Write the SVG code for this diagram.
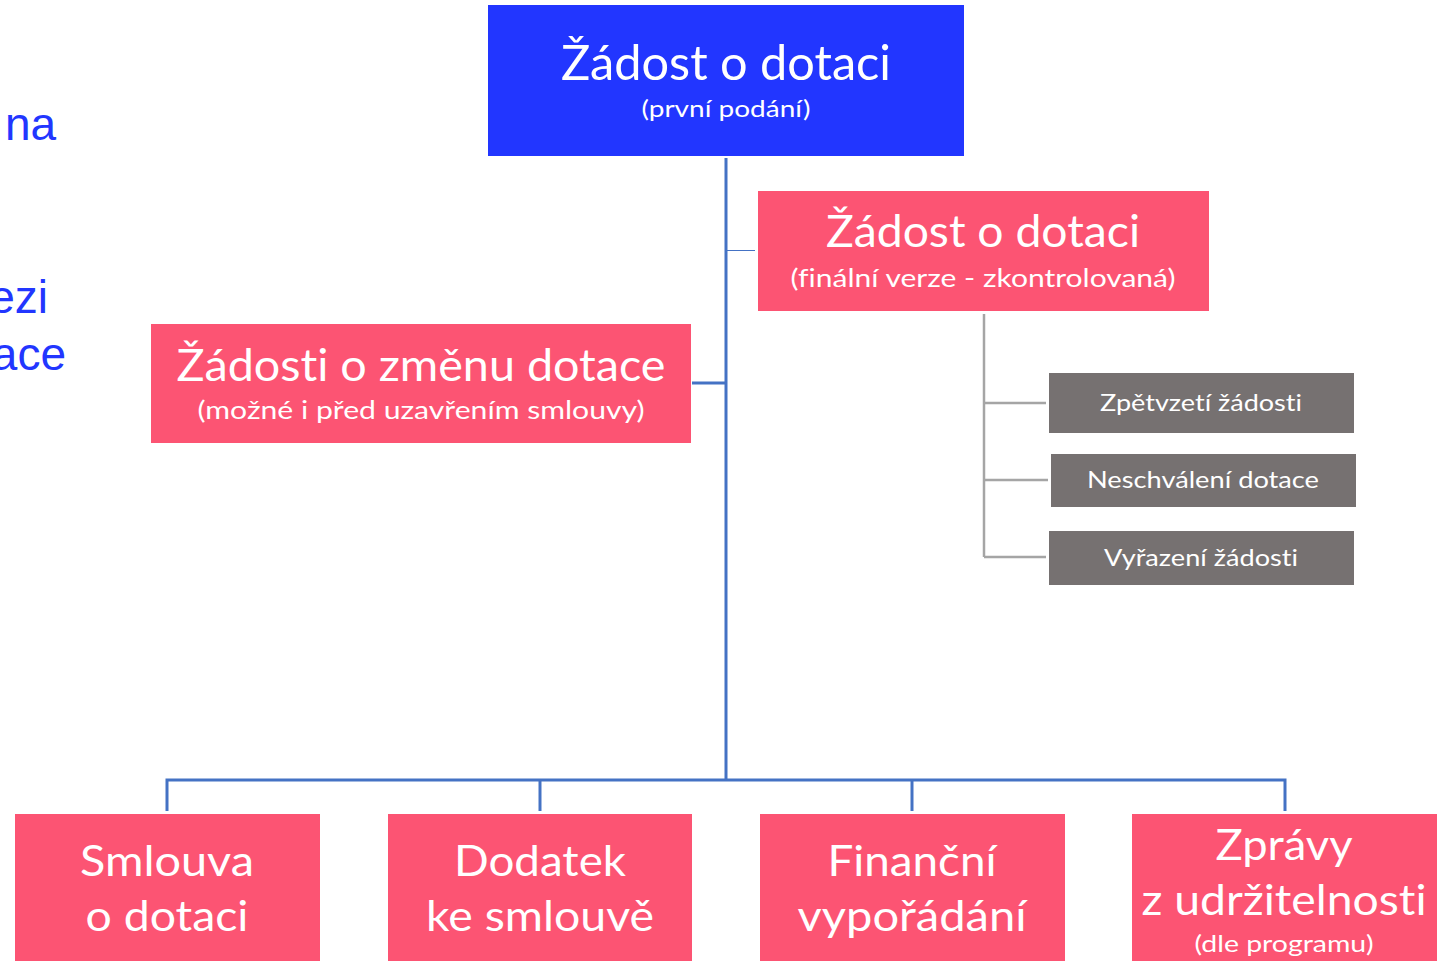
<svg xmlns="http://www.w3.org/2000/svg" width="1447" height="961" viewBox="0 0 1447 961">
<style>
.t{font-family:Lato,"Noto Sans",sans-serif;fill:#fff;text-anchor:middle;font-variant-ligatures:none;font-feature-settings:"liga" 0,"clig" 0}
.pink{fill:#FC5473}
.gray{fill:#767171}
.side{font-family:"Liberation Sans",Arial,sans-serif;fill:#2236FF;font-size:46px}
.bl{stroke:#4472C4;stroke-width:3;fill:none}
.gl{stroke:#A5A5A5;stroke-width:2.5;fill:none}
</style>
<rect width="1447" height="961" fill="#fff"/>
<g id="side-text">
<text class="side" x="5" y="140">na</text>
<text class="side" x="48" y="313" text-anchor="end">ezi</text>
<text class="side" x="66" y="370" text-anchor="end">ace</text>
</g>
<g id="connectors">
<line class="bl" x1="726" y1="158" x2="726" y2="781"/>
<line x1="727" y1="250.5" x2="755" y2="250.5" stroke="#4472C4" stroke-width="1"/>
<line class="bl" x1="692" y1="383" x2="726" y2="383"/>
<polyline class="bl" points="167,811 167,780 1285,780 1285,811"/>
<line class="bl" x1="540" y1="780" x2="540" y2="811"/>
<line class="bl" x1="912" y1="780" x2="912" y2="811"/>
<line class="gl" x1="984" y1="314" x2="984" y2="557"/>
<line class="gl" x1="984" y1="403" x2="1046" y2="403"/>
<line class="gl" x1="984" y1="480" x2="1048" y2="480"/>
<line class="gl" x1="984" y1="557" x2="1046" y2="557"/>
</g>
<g id="n-first">
<rect x="488" y="5" width="476" height="151" fill="#2236FF"/>
<text class="t" x="726" y="80" font-size="48" textLength="330" lengthAdjust="spacingAndGlyphs">Žádost o dotaci</text>
<text class="t" x="726" y="117" font-size="23" textLength="169" lengthAdjust="spacingAndGlyphs">(první podání)</text>
</g>
<g id="n-final">
<rect x="758" y="191" width="451" height="120" class="pink"/>
<text class="t" x="983" y="247" font-size="45" textLength="314" lengthAdjust="spacingAndGlyphs">Žádost o dotaci</text>
<text class="t" x="983" y="287" font-size="25" textLength="385" lengthAdjust="spacingAndGlyphs">(finální verze - zkontrolovaná)</text>
</g>
<g id="n-change">
<rect x="151" y="324" width="540" height="119" class="pink"/>
<text class="t" x="421" y="381" font-size="45" textLength="489" lengthAdjust="spacingAndGlyphs">Žádosti o změnu dotace</text>
<text class="t" x="421" y="419" font-size="25" textLength="447" lengthAdjust="spacingAndGlyphs">(možné i před uzavřením smlouvy)</text>
</g>
<g id="n-zpetvzeti">
<rect x="1049" y="373" width="305" height="60" class="gray"/>
<text class="t" x="1201" y="411" font-size="23" textLength="202" lengthAdjust="spacingAndGlyphs">Zpětvzetí žádosti</text>
</g>
<g id="n-neschvaleni">
<rect x="1051" y="454" width="305" height="53" class="gray"/>
<text class="t" x="1203" y="488" font-size="23" textLength="232" lengthAdjust="spacingAndGlyphs">Neschválení dotace</text>
</g>
<g id="n-vyrazeni">
<rect x="1049" y="531" width="305" height="54" class="gray"/>
<text class="t" x="1201" y="566" font-size="23" textLength="194" lengthAdjust="spacingAndGlyphs">Vyřazení žádosti</text>
</g>
<g id="n-smlouva">
<rect x="15" y="814" width="305" height="150" class="pink"/>
<text class="t" x="167" y="876" font-size="42" textLength="174" lengthAdjust="spacingAndGlyphs">Smlouva</text>
<text class="t" x="167" y="931" font-size="42" textLength="163" lengthAdjust="spacingAndGlyphs">o dotaci</text>
</g>
<g id="n-dodatek">
<rect x="388" y="814" width="304" height="150" class="pink"/>
<text class="t" x="540" y="876" font-size="42" textLength="172" lengthAdjust="spacingAndGlyphs">Dodatek</text>
<text class="t" x="540" y="931" font-size="42" textLength="228" lengthAdjust="spacingAndGlyphs">ke smlouvě</text>
</g>
<g id="n-financni">
<rect x="760" y="814" width="305" height="150" class="pink"/>
<text class="t" x="912" y="876" font-size="42" textLength="169" lengthAdjust="spacingAndGlyphs">Finanční</text>
<text class="t" x="912" y="931" font-size="42" textLength="229" lengthAdjust="spacingAndGlyphs">vypořádání</text>
</g>
<g id="n-zpravy">
<rect x="1132" y="814" width="305" height="150" class="pink"/>
<text class="t" x="1284" y="860" font-size="42" textLength="137" lengthAdjust="spacingAndGlyphs">Zprávy</text>
<text class="t" x="1284" y="915" font-size="42" textLength="285" lengthAdjust="spacingAndGlyphs">z udržitelnosti</text>
<text class="t" x="1284" y="952" font-size="23" textLength="179" lengthAdjust="spacingAndGlyphs">(dle programu)</text>
</g>
</svg>
